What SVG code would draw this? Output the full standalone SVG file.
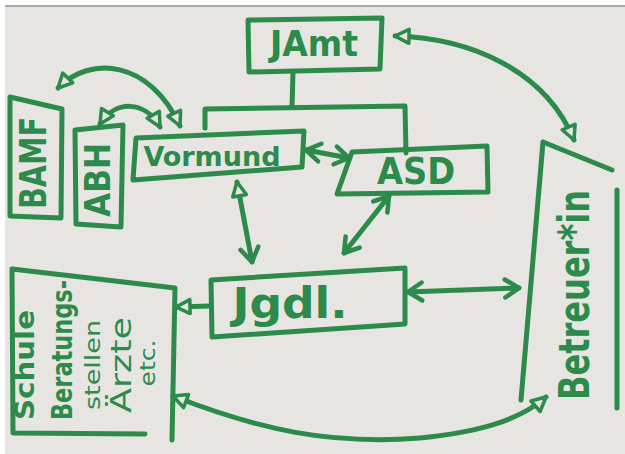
<svg xmlns="http://www.w3.org/2000/svg" width="625" height="454" viewBox="0 0 625 454">
<defs>
<style>
.ln{fill:none;stroke:#2c8a4a;stroke-width:5;stroke-linecap:round;stroke-linejoin:round}
.bx{fill:none;stroke:#2c8a4a;stroke-width:5;stroke-linecap:round;stroke-linejoin:round}
.t{fill:#2c8a4a;font-family:"DejaVu Sans Condensed","DejaVu Sans",sans-serif;font-weight:bold;text-anchor:middle}
.h{fill:#2c8a4a;font-family:"DejaVu Sans Condensed","DejaVu Sans",sans-serif;text-anchor:middle}
</style>
<marker id="tri" viewBox="-2 -10 20 20" refX="15" refY="0" markerWidth="20" markerHeight="20" markerUnits="userSpaceOnUse" orient="auto-start-reverse">
<path d="M1,-7 L15,0 L1,7 Z" fill="#e7e5e2" stroke="#2c8a4a" stroke-width="3.5" stroke-linejoin="round"/>
</marker>
<marker id="vee" viewBox="-2 -12 22 24" refX="16" refY="0" markerWidth="22" markerHeight="24" markerUnits="userSpaceOnUse" orient="auto-start-reverse">
<path d="M2,-9 L16,0 L2,9" fill="none" stroke="#2c8a4a" stroke-width="4.5" stroke-linecap="round" stroke-linejoin="round"/>
</marker>
</defs>
<rect x="0" y="0" width="625" height="454" fill="#ffffff"/>
<rect x="5" y="7" width="620" height="447" fill="#e7e5e2"/>
<line x1="5" y1="6" x2="625" y2="6" stroke="#555" stroke-width="1"/>

<g id="connectors">
<path class="ln" d="M293,72 L292,107 M205,128 L205,109 L405,106 L406,153"/>
<path class="ln" d="M395,36 C470,38 545,70 574,140" marker-start="url(#tri)" marker-end="url(#tri)"/>
<path class="ln" d="M58,88 C90,55 150,60 180,126" marker-start="url(#tri)" marker-end="url(#tri)"/>
<path class="ln" d="M100,124 C115,100 145,100 160,127" marker-start="url(#tri)" marker-end="url(#tri)"/>
<path class="ln" d="M306,150 L349,158" marker-start="url(#vee)" marker-end="url(#vee)"/>
<path class="ln" d="M237,182 L252,262" marker-start="url(#tri)" marker-end="url(#vee)"/>
<path class="ln" d="M389,196 L344,253" marker-start="url(#vee)" marker-end="url(#vee)"/>
<path class="ln" d="M408,292 L519,288" marker-start="url(#vee)" marker-end="url(#vee)"/>
<path class="ln" d="M210,306 L176,307" marker-end="url(#tri)"/>
<path class="ln" d="M173,396 C260,430 330,445 420,438 C480,432 520,420 546,397" marker-start="url(#tri)" marker-end="url(#tri)"/>
</g>

<g id="jamt">
<polygon class="bx" points="248,20 382,18 380,69 249,72"/>
<text class="t" x="314" y="56" font-size="36" textLength="88" lengthAdjust="spacingAndGlyphs">JAmt</text>
</g>

<g id="vormund">
<polygon class="bx" points="136,138 304,131 302,167 133,180"/>
<text class="t" x="212" y="166" font-size="26" textLength="137" lengthAdjust="spacingAndGlyphs">Vormund</text>
</g>

<g id="asd">
<polygon class="bx" points="352,152 487,146 488,192 337,194"/>
<text class="t" x="416" y="184" font-size="38" textLength="78" lengthAdjust="spacingAndGlyphs">ASD</text>
</g>

<g id="jgdl">
<polygon class="bx" points="211,280 405,268 405,324 212,337"/>
<text class="t" x="290" y="318" font-size="42" textLength="115" lengthAdjust="spacingAndGlyphs">Jgdl.</text>
</g>

<g id="bamf">
<polygon class="bx" points="10,97 62,109 61,218 10,216"/>
<text class="t" transform="translate(33,163) rotate(-90)" x="0" y="13" font-size="38" textLength="92" lengthAdjust="spacingAndGlyphs">BAMF</text>
</g>

<g id="abh">
<polygon class="bx" points="75,130 123,125 121,227 76,224"/>
<text class="t" transform="translate(97,180) rotate(-90)" x="0" y="13" font-size="36" textLength="74" lengthAdjust="spacingAndGlyphs">ABH</text>
</g>

<g id="betreuer">
<path class="bx" d="M543,142 L612,170 M543,142 L521,400 M617,190 L617,408"/>
<text class="t" transform="translate(574,295) rotate(-90)" x="0" y="15" font-size="42" textLength="210" lengthAdjust="spacingAndGlyphs">Betreuer*in</text>
</g>

<g id="schule">
<path class="bx" d="M145,434 L13,433 L12,269 L175,288 L172,440"/>
<text class="t" transform="translate(25,365) rotate(-90)" x="0" y="9" font-size="26" textLength="110" lengthAdjust="spacingAndGlyphs">Schule</text>
<text class="t" transform="translate(62,350) rotate(-90)" x="0" y="10" font-size="28" textLength="140" lengthAdjust="spacingAndGlyphs">Beratungs-</text>
<text class="h" transform="translate(93,365) rotate(-90)" x="0" y="7" font-size="22" textLength="90" lengthAdjust="spacingAndGlyphs">stellen</text>
<text class="h" transform="translate(122,365) rotate(-90)" x="0" y="9" font-size="28" textLength="96" lengthAdjust="spacingAndGlyphs">Ärzte</text>
<text class="h" transform="translate(148,363) rotate(-90)" x="0" y="7" font-size="22" textLength="47" lengthAdjust="spacingAndGlyphs">etc.</text>
</g>
</svg>
